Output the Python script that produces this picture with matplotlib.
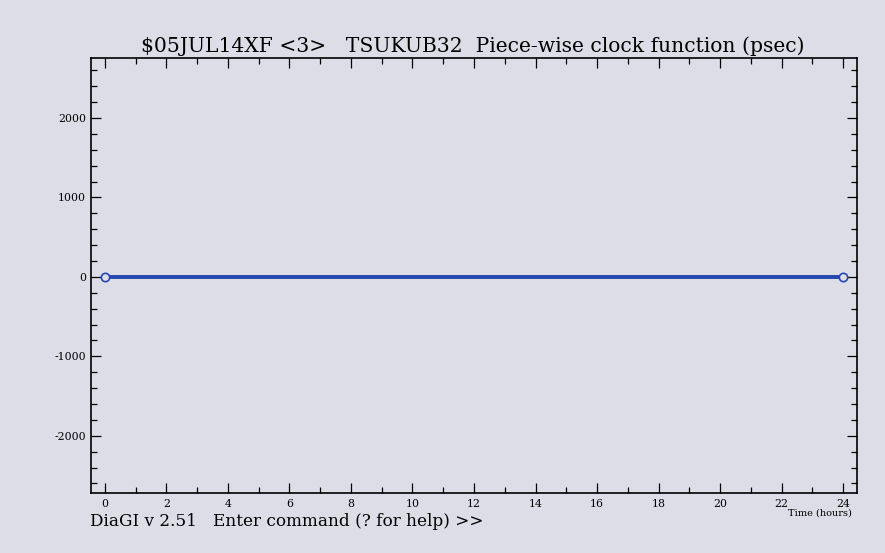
import matplotlib
matplotlib.use('Agg')
import matplotlib.pyplot as plt
from matplotlib.ticker import MultipleLocator

# data
hours = [0, 24]
clock_psec = [0, 0]

title = '$05JUL14XF <3>   TSUKUB32  Piece-wise clock function (psec)'
xlabel = 'Time (hours)'
prompt = 'DiaGI v 2.51   Enter command (? for help) >>'

bg = '#dcdde6'
line_col = '#2448b0'

plt.rcParams['axes.unicode_minus'] = False

fig = plt.figure(figsize=(8.85, 5.53), dpi=100, facecolor=bg)
ax = fig.add_axes([91/885, 1 - 493/553, (857-91)/885, (493-58)/553])
ax.set_facecolor(bg)

ax.plot(hours, clock_psec, color=line_col, linewidth=2.8, zorder=3)
ax.plot(hours, clock_psec, linestyle='none', marker='o', markersize=6,
        markerfacecolor=bg, markeredgecolor=line_col, markeredgewidth=1.2, zorder=4)

ax.set_xlim(-0.45, 24.45)
ax.set_ylim(-2720, 2755)
ax.xaxis.set_major_locator(MultipleLocator(2))
ax.xaxis.set_minor_locator(MultipleLocator(1))
ax.yaxis.set_major_locator(MultipleLocator(1000))
ax.yaxis.set_minor_locator(MultipleLocator(200))
ax.tick_params(which='both', direction='in', top=True, right=True,
               labelsize=7.8, width=0.9, color='black')
ax.tick_params(which='major', length=7)
ax.tick_params(which='minor', length=4)
for lab in ax.get_xticklabels() + ax.get_yticklabels():
    lab.set_family('DejaVu Serif')
ax.tick_params(axis='x', pad=4)
for sp in ax.spines.values():
    sp.set_linewidth(1.2)

fig.text(473/885, 1 - 46/553, title, ha='center', va='center',
         family='DejaVu Serif', fontsize=14.6)
fig.text(820/885, 1 - 513/553, xlabel, ha='center', va='center',
         family='DejaVu Serif', fontsize=7)
fig.text(90/885, 1 - 522/553, prompt, ha='left', va='center',
         family='DejaVu Serif', fontsize=12.2)

fig.savefig('out.png', dpi=100, facecolor=bg)
